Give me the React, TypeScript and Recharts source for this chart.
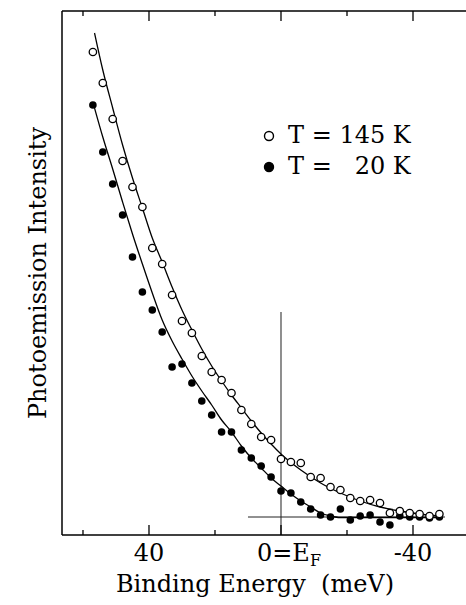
import React from "react";
import {
  ComposedChart,
  Label,
  Legend,
  Line,
  ReferenceLine,
  Scatter,
  XAxis,
  YAxis,
} from "recharts";

// binding energy grid of the measured points (meV)
const energies = [57, 54, 51, 48, 45, 42, 39, 36, 33, 30, 27, 24, 21, 18, 15, 12, 9, 6, 3, 0, -3, -6, -9, -12, -15, -18, -21, -24, -27, -30, -33, -36, -39, -42, -45, -48];
// open circles, T = 145 K
const hot145 = [4.65, 4.34, 3.98, 3.56, 3.3, 3.1, 2.69, 2.53, 2.22, 1.96, 1.84, 1.61, 1.45, 1.37, 1.24, 1.07, 0.93, 0.8, 0.77, 0.58, 0.55, 0.54, 0.4, 0.39, 0.3, 0.27, 0.19, 0.16, 0.17, 0.14, 0.04, 0.06, 0.04, 0.03, 0.01, 0.03];
// filled circles, T = 20 K
const cold20 = [4.12, 3.65, 3.33, 3.02, 2.6, 2.25, 2.07, 1.85, 1.5, 1.53, 1.34, 1.16, 1.02, 0.85, 0.85, 0.67, 0.59, 0.51, 0.4, 0.26, 0.24, 0.15, 0.08, 0.02, 0.0, 0.08, -0.03, 0.01, 0.02, -0.05, -0.08, 0.01, 0.0, 0.0, -0.01, 0.0];

// fitted curves
const fitHotE = [56.5, 54, 51, 48, 45, 42, 39, 36, 33, 30, 27, 24, 21, 18, 15, 12, 9, 6, 3, 0, -6, -12, -18, -24, -30, -36, -42, -48];
const fitHot = [4.84, 4.47, 4.09, 3.72, 3.39, 3.09, 2.79, 2.55, 2.3, 2.07, 1.87, 1.68, 1.51, 1.36, 1.22, 1.09, 0.96, 0.84, 0.73, 0.63, 0.47, 0.34, 0.24, 0.16, 0.1, 0.06, 0.03, 0.01];
const fitColdE = [56.5, 54, 51, 48, 45, 42, 39, 36, 33, 30, 27, 24, 21, 18, 15, 12, 9, 6, 3, 0, -3, -6, -9, -12, -15, -18, -24, -30, -36, -42, -48];
const fitCold = [4.09, 3.8, 3.48, 3.15, 2.83, 2.53, 2.24, 1.97, 1.76, 1.58, 1.41, 1.26, 1.12, 0.97, 0.85, 0.71, 0.59, 0.49, 0.39, 0.31, 0.23, 0.16, 0.1, 0.04, 0.01, -0.005, -0.005, -0.005, -0.005, -0.005, -0.005];

const xTicks = [60, 40, 20, 0, -20, -40];
const majorTicks = [40, 0, -40];
const legendItems = ["T = 145 K", "T =   20 K"];

const FONT = "'DejaVu Serif', serif";

const hotPts = energies.map((e, i) => ({ e, i: hot145[i] }));
const coldPts = energies.map((e, i) => ({ e, i: cold20[i] }));
const hotFit = fitHotE.map((e, i) => ({ e, i: fitHot[i] }));
const coldFit = fitColdE.map((e, i) => ({ e, i: fitCold[i] }));

const OpenDot = (props: any) => (
  <circle cx={props.cx} cy={props.cy} r={3.7} fill="#fff" stroke="#000" strokeWidth={1.3} />
);
const FilledDot = (props: any) => (
  <circle cx={props.cx} cy={props.cy} r={3.8} fill="#000" />
);

const BottomTick = ({ x, y, payload }: any) => {
  const v = payload.value;
  const major = majorTicks.includes(v);
  return (
    <g>
      <line x1={x} x2={x} y1={y} y2={y - (major ? 10 : 5)} stroke="#000" strokeWidth={1.3} />
      {v === 0 ? (
        <text x={x - 24} y={y + 26} fontFamily={FONT} fontSize={24} fill="#000">
          0=E
          <tspan fontSize={16} dy={5}>F</tspan>
        </text>
      ) : major ? (
        <text x={x} y={y + 26} textAnchor="middle" fontFamily={FONT} fontSize={24} fill="#000">
          {String(v)}
        </text>
      ) : null}
    </g>
  );
};

const TopTick = ({ x, y, payload }: any) => {
  const major = majorTicks.includes(payload.value);
  return <line x1={x} x2={x} y1={y} y2={y + (major ? 10 : 5)} stroke="#000" strokeWidth={1.3} />;
};

const LegendBox = () => (
  <div style={{ fontFamily: FONT, fontSize: 24, lineHeight: "31px", color: "#000" }}>
    {legendItems.map((label, k) => (
      <div key={label} style={{ display: "flex", alignItems: "center", whiteSpace: "pre" }}>
        <svg width={18} height={14} style={{ marginRight: 8 }}>
          <circle cx={7} cy={7} r={4.5} fill={k === 0 ? "#fff" : "#000"} stroke="#000" strokeWidth={1.4} />
        </svg>
        <span>{label}</span>
      </div>
    ))}
  </div>
);

export default function App() {
  return (
    <div style={{ position: "absolute", left: 0, top: 0, width: 466, height: 605, background: "#fff" }}>
      <ComposedChart width={466} height={605} margin={{ top: 0, right: 0, bottom: 0, left: 0 }}>
        <XAxis
          xAxisId="bottom"
          type="number"
          dataKey="e"
          domain={[-56.06, 66.36]}
          reversed
          allowDataOverflow
          ticks={xTicks}
          interval={0}
          height={70}
          tickSize={0}
          tickMargin={0}
          tickLine={false}
          tick={<BottomTick />}
          axisLine={{ stroke: "#000", strokeWidth: 1.5 }}
        >
          <Label
            content={({ viewBox }: any) => (
              <text
                x={viewBox.x + 193}
                y={viewBox.y + 57}
                textAnchor="middle"
                fontFamily={FONT}
                fontSize={24}
                fill="#000"
                style={{ whiteSpace: "pre" }}
              >
                {"Binding Energy  (meV)"}
              </text>
            )}
          />
        </XAxis>
        <XAxis
          xAxisId="top"
          orientation="top"
          type="number"
          dataKey="e"
          domain={[-56.06, 66.36]}
          reversed
          allowDataOverflow
          ticks={xTicks}
          interval={0}
          height={11}
          tickSize={0}
          tickMargin={0}
          tickLine={false}
          tick={<TopTick />}
          axisLine={{ stroke: "#000", strokeWidth: 1.5 }}
        />
        <YAxis
          type="number"
          dataKey="i"
          domain={[-0.18, 5.06]}
          allowDataOverflow
          width={62}
          tick={false}
          tickLine={false}
          axisLine={{ stroke: "#000", strokeWidth: 1.5 }}
        >
          <Label
            content={({ viewBox }: any) => {
              const cx = viewBox.x + 38;
              const cy = viewBox.y + viewBox.height / 2;
              return (
                <text
                  x={cx}
                  y={cy}
                  transform={`rotate(-90 ${cx} ${cy})`}
                  textAnchor="middle"
                  dominantBaseline="central"
                  fontFamily={FONT}
                  fontSize={24}
                  fill="#000"
                >
                  Photoemission Intensity
                </text>
              );
            }}
          />
        </YAxis>
        <ReferenceLine
          xAxisId="bottom"
          segment={[{ x: 0, y: 2.05 }, { x: 0, y: -0.18 }]}
          stroke="#444"
          strokeWidth={1.2}
        />
        <ReferenceLine
          xAxisId="bottom"
          segment={[{ x: 10, y: 0 }, { x: -49.7, y: 0 }]}
          stroke="#222"
          strokeWidth={1}
        />
        <Line xAxisId="bottom" data={hotFit} dataKey="i" type="monotone" dot={false} stroke="#000" strokeWidth={1.3} isAnimationActive={false} />
        <Line xAxisId="bottom" data={coldFit} dataKey="i" type="monotone" dot={false} stroke="#000" strokeWidth={1.3} isAnimationActive={false} />
        <Scatter xAxisId="bottom" data={coldPts} dataKey="i" shape={FilledDot} isAnimationActive={false} />
        <Scatter xAxisId="bottom" data={hotPts} dataKey="i" shape={OpenDot} isAnimationActive={false} />
        <Legend
          layout="horizontal"
          verticalAlign="middle"
          content={<LegendBox />}
          wrapperStyle={{ position: "absolute", left: 262, top: 120, width: 200 }}
        />
      </ComposedChart>
    </div>
  );
}
